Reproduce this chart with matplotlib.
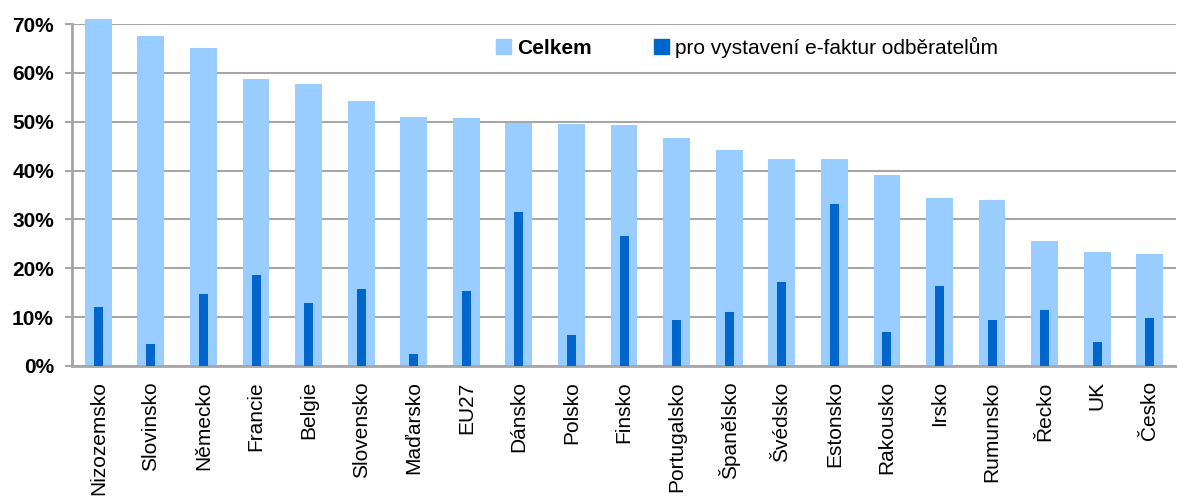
import numpy as np
import matplotlib
matplotlib.use('Agg')
from matplotlib import pyplot as plt
from matplotlib.patches import Patch
from matplotlib.ticker import PercentFormatter

countries = ["Nizozemsko", "Slovinsko", "Německo", "Francie", "Belgie", "Slovensko",
             "Maďarsko", "EU27", "Dánsko", "Polsko", "Finsko", "Portugalsko",
             "Španělsko", "Švédsko", "Estonsko", "Rakousko", "Irsko", "Rumunsko",
             "Řecko", "UK", "Česko"]
celkem = [71.0, 67.5, 65.1, 58.7, 57.7, 54.2, 51.0, 50.8, 49.7, 49.5, 49.3, 46.7,
          44.2, 42.4, 42.4, 39.1, 34.4, 34.0, 25.6, 23.3, 22.9]
efaktury = [12.1, 4.5, 14.7, 18.6, 12.9, 15.8, 2.5, 15.3, 31.5, 6.3, 26.6, 9.4,
            11.1, 17.2, 33.2, 7.0, 16.4, 9.4, 11.5, 4.9, 9.8]
labels = ["Celkem", "pro vystavení e-faktur odběratelům"]

plt.rcParams['font.family'] = ['Liberation Sans', 'DejaVu Sans']
light = '#99CCFF'
dark = '#0066CC'
grid = '#A6A6A6'

fig = plt.figure(figsize=(11.77, 4.96), dpi=100)
ax = fig.add_axes([0.0612, 0.2621, 0.9380, 0.6895])

x = np.arange(len(countries))
ax.bar(x, celkem, width=0.51, color=light, zorder=2, clip_on=False)
ax.bar(x, efaktury, width=0.17, color=dark, zorder=3, clip_on=False)

ax.set_xlim(-0.5, len(countries) - 0.5)
ax.set_ylim(0, 70)
ax.set_yticks(np.arange(0, 71, 10))
ax.yaxis.set_major_formatter(PercentFormatter(decimals=0))
ax.grid(axis='y', color=grid, linewidth=1.5, zorder=0)

ax.set_xticks(x)
ax.set_xticklabels(countries, rotation=90, fontsize=15, va='top')
ax.tick_params(axis='x', length=0, pad=11)
ax.tick_params(axis='y', direction='out', length=5, width=1.5, color=grid, pad=8)
for t in ax.get_yticklabels():
    t.set_fontsize(15)
    t.set_fontweight('bold')

for side in ['top', 'right']:
    ax.spines[side].set_visible(False)
ax.spines['left'].set_color(grid)
ax.spines['left'].set_linewidth(2)
ax.spines['bottom'].set_color(grid)
ax.spines['bottom'].set_linewidth(2)

handles = [Patch(color=light), Patch(color=dark)]
leg = fig.legend(handles, labels, loc='center', bbox_to_anchor=(0.635, 0.905),
                 ncol=2, frameon=False, fontsize=15, handlelength=0.7,
                 handleheight=0.7, handletextpad=0.3, columnspacing=3.0)
leg.get_texts()[0].set_fontweight('bold')

plt.savefig("out.png", dpi=100)
